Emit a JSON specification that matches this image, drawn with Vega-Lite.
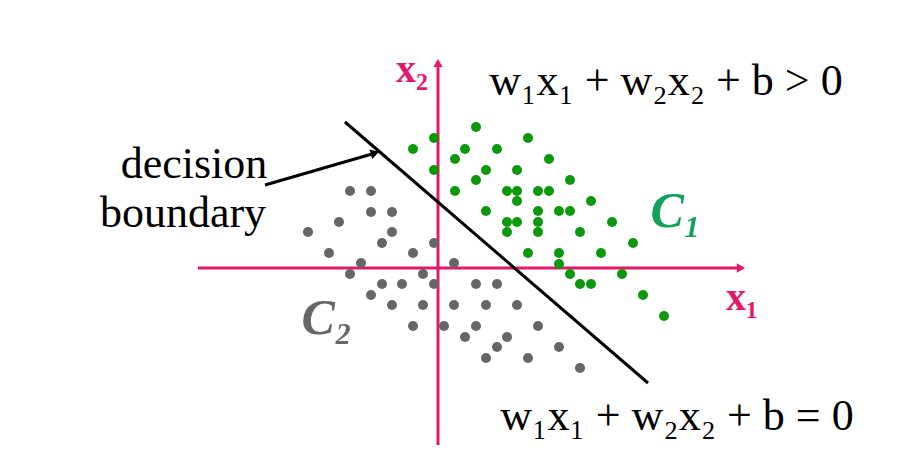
{
  "$schema": "https://vega.github.io/schema/vega-lite/v6.json",
  "width": 918,
  "height": 462,
  "autosize": {"type": "fit", "contains": "padding"},
  "padding": 0,
  "background": "white",
  "config": {"view": {"stroke": null}, "axis": {"disable": true}},
  "datasets": {
    "points": [
      {"cls": "C1", "x1": 3.8, "x2": 14.1}, {"cls": "C1", "x1": -0.4, "x2": 13.0}, {"cls": "C1", "x1": 9.0, "x2": 13.0},
      {"cls": "C1", "x1": -2.5, "x2": 11.9}, {"cls": "C1", "x1": 2.7, "x2": 11.9}, {"cls": "C1", "x1": 5.9, "x2": 11.9},
      {"cls": "C1", "x1": 1.7, "x2": 10.9}, {"cls": "C1", "x1": 11.1, "x2": 10.9}, {"cls": "C1", "x1": -0.4, "x2": 9.8},
      {"cls": "C1", "x1": 4.8, "x2": 9.8}, {"cls": "C1", "x1": 7.9, "x2": 9.8}, {"cls": "C1", "x1": 3.8, "x2": 8.8},
      {"cls": "C1", "x1": 13.2, "x2": 8.8}, {"cls": "C1", "x1": 1.7, "x2": 7.7}, {"cls": "C1", "x1": 6.9, "x2": 7.7},
      {"cls": "C1", "x1": 7.9, "x2": 7.7}, {"cls": "C1", "x1": 10.0, "x2": 7.7}, {"cls": "C1", "x1": 11.1, "x2": 7.7},
      {"cls": "C1", "x1": 7.9, "x2": 6.7}, {"cls": "C1", "x1": 15.3, "x2": 6.7}, {"cls": "C1", "x1": 4.8, "x2": 5.7},
      {"cls": "C1", "x1": 10.0, "x2": 5.7}, {"cls": "C1", "x1": 12.1, "x2": 5.7}, {"cls": "C1", "x1": 13.2, "x2": 5.7},
      {"cls": "C1", "x1": 6.9, "x2": 4.6}, {"cls": "C1", "x1": 7.9, "x2": 4.6}, {"cls": "C1", "x1": 10.0, "x2": 4.6},
      {"cls": "C1", "x1": 17.4, "x2": 4.6}, {"cls": "C1", "x1": 6.9, "x2": 3.6}, {"cls": "C1", "x1": 10.0, "x2": 3.6},
      {"cls": "C1", "x1": 14.2, "x2": 3.6}, {"cls": "C1", "x1": 19.5, "x2": 2.5}, {"cls": "C1", "x1": 9.0, "x2": 1.5},
      {"cls": "C1", "x1": 12.1, "x2": 1.5}, {"cls": "C1", "x1": 16.3, "x2": 1.5}, {"cls": "C1", "x1": 12.1, "x2": 0.4},
      {"cls": "C1", "x1": 13.2, "x2": -0.6}, {"cls": "C1", "x1": 18.4, "x2": -0.6}, {"cls": "C1", "x1": 14.2, "x2": -1.6},
      {"cls": "C1", "x1": 15.3, "x2": -1.6}, {"cls": "C1", "x1": 20.5, "x2": -2.7}, {"cls": "C1", "x1": 22.6, "x2": -4.8},
      {"cls": "C2", "x1": -8.8, "x2": 7.7}, {"cls": "C2", "x1": -6.7, "x2": 7.7}, {"cls": "C2", "x1": -6.7, "x2": 5.6},
      {"cls": "C2", "x1": -4.6, "x2": 5.6}, {"cls": "C2", "x1": -9.9, "x2": 4.6}, {"cls": "C2", "x1": -13.0, "x2": 3.6},
      {"cls": "C2", "x1": -4.6, "x2": 3.6}, {"cls": "C2", "x1": -5.6, "x2": 2.5}, {"cls": "C2", "x1": -0.4, "x2": 2.5},
      {"cls": "C2", "x1": -10.9, "x2": 1.5}, {"cls": "C2", "x1": -2.5, "x2": 1.5}, {"cls": "C2", "x1": -7.7, "x2": 0.5},
      {"cls": "C2", "x1": 1.6, "x2": 0.5}, {"cls": "C2", "x1": -8.8, "x2": -0.6}, {"cls": "C2", "x1": -1.5, "x2": -0.6},
      {"cls": "C2", "x1": -5.6, "x2": -1.6}, {"cls": "C2", "x1": -3.6, "x2": -1.6}, {"cls": "C2", "x1": -0.4, "x2": -1.6},
      {"cls": "C2", "x1": 3.8, "x2": -1.6}, {"cls": "C2", "x1": 5.9, "x2": -1.6}, {"cls": "C2", "x1": -6.7, "x2": -2.7},
      {"cls": "C2", "x1": -4.6, "x2": -3.7}, {"cls": "C2", "x1": -1.5, "x2": -3.7}, {"cls": "C2", "x1": 1.6, "x2": -3.7},
      {"cls": "C2", "x1": 4.8, "x2": -3.7}, {"cls": "C2", "x1": 7.9, "x2": -3.7}, {"cls": "C2", "x1": -2.5, "x2": -5.8},
      {"cls": "C2", "x1": 0.6, "x2": -5.8}, {"cls": "C2", "x1": 3.8, "x2": -5.8}, {"cls": "C2", "x1": 10.0, "x2": -5.8},
      {"cls": "C2", "x1": 2.7, "x2": -6.9}, {"cls": "C2", "x1": 6.9, "x2": -6.9}, {"cls": "C2", "x1": 5.9, "x2": -7.9},
      {"cls": "C2", "x1": 12.1, "x2": -7.9}, {"cls": "C2", "x1": 4.8, "x2": -9.0}, {"cls": "C2", "x1": 9.0, "x2": -9.0},
      {"cls": "C2", "x1": 14.2, "x2": -10.0}
    ],
    "axes": [
      {"name": "x1axis", "xa": -24.0, "ya": 0, "xb": 30.0, "yb": 0},
      {"name": "x2axis", "xa": 0, "ya": -17.7, "xb": 0, "yb": 20.2}
    ],
    "boundary": [
      {"name": "boundary", "xa": -9.3, "ya": 14.6, "xb": 21.0, "yb": -11.5},
      {"name": "pointer", "xa": -17.3, "ya": 8.3, "xb": -6.6, "yb": 11.4}
    ]
  },
  "layer": [
    {
      "data": {"name": "axes"},
      "mark": {"type": "rule", "color": "#e3186b", "strokeWidth": 3},
      "encoding": {
        "x": {"field": "xa", "type": "quantitative", "scale": {"domain": [-43.8, 48.0], "nice": false, "zero": false}},
        "y": {"field": "ya", "type": "quantitative", "scale": {"domain": [-19.4, 26.8], "nice": false, "zero": false}},
        "x2": {"field": "xb"},
        "y2": {"field": "yb"}
      }
    },
    {
      "data": {"values": [{"name": "x1axis", "x": 30.3, "y": 0, "dir": 90}, {"name": "x2axis", "x": 0, "y": 20.5, "dir": 0}]},
      "mark": {"type": "point", "shape": "triangle-up", "filled": true, "color": "#e3186b", "size": 90, "opacity": 1},
      "encoding": {
        "x": {"field": "x", "type": "quantitative"},
        "y": {"field": "y", "type": "quantitative"},
        "angle": {"field": "dir", "type": "quantitative", "scale": null}
      }
    },
    {
      "data": {"name": "points"},
      "mark": {"type": "circle", "size": 100, "opacity": 1},
      "encoding": {
        "x": {"field": "x1", "type": "quantitative"},
        "y": {"field": "x2", "type": "quantitative"},
        "color": {"field": "cls", "type": "nominal", "scale": {"domain": ["C1", "C2"], "range": ["#0b990b", "#666666"]}, "legend": null}
      }
    },
    {
      "data": {"name": "boundary"},
      "mark": {"type": "rule", "color": "#000000", "strokeWidth": 3},
      "encoding": {
        "x": {"field": "xa", "type": "quantitative"},
        "y": {"field": "ya", "type": "quantitative"},
        "x2": {"field": "xb"},
        "y2": {"field": "yb"}
      }
    },
    {
      "data": {"values": [{"name": "pointer head", "x": -6.3, "y": 11.5, "dir": 74}]},
      "mark": {"type": "point", "shape": "triangle-up", "filled": true, "color": "#000000", "size": 100, "opacity": 1},
      "encoding": {
        "x": {"field": "x", "type": "quantitative"},
        "y": {"field": "y", "type": "quantitative"},
        "angle": {"field": "dir", "type": "quantitative", "scale": null}
      }
    },
    {
      "data": {"values": [{"label": "decision", "x": -24.4, "y": 9.0}, {"label": "boundary", "x": -25.5, "y": 4.1}]},
      "mark": {"type": "text", "font": "Liberation Serif", "fontSize": 44, "color": "#000000", "align": "center", "baseline": "alphabetic"},
      "encoding": {
        "x": {"field": "x", "type": "quantitative"},
        "y": {"field": "y", "type": "quantitative"},
        "text": {"field": "label"}
      }
    },
    {
      "data": {"values": [{"label": "w₁x₁ + w₂x₂ + b > 0", "x": 22.8, "y": 17.3}, {"label": "w₁x₁ + w₂x₂ + b = 0", "x": 23.9, "y": -16.2}]},
      "mark": {"type": "text", "font": "Liberation Serif", "fontSize": 44, "color": "#000000", "align": "center", "baseline": "alphabetic"},
      "encoding": {
        "x": {"field": "x", "type": "quantitative"},
        "y": {"field": "y", "type": "quantitative"},
        "text": {"field": "label"}
      }
    },
    {
      "data": {"values": [{"label": "x₂", "x": -2.6, "y": 19.8}, {"label": "x₁", "x": 30.4, "y": -3.0}]},
      "mark": {"type": "text", "font": "Liberation Serif", "fontSize": 40, "fontWeight": "bold", "color": "#e3186b", "align": "center", "baseline": "middle"},
      "encoding": {
        "x": {"field": "x", "type": "quantitative"},
        "y": {"field": "y", "type": "quantitative"},
        "text": {"field": "label"}
      }
    },
    {
      "data": {"values": [{"label": "C₁", "cls": "C1", "x": 23.8, "y": 5.6}, {"label": "C₂", "cls": "C2", "x": -11.1, "y": -5.1}]},
      "mark": {"type": "text", "font": "Liberation Serif", "fontSize": 50, "fontWeight": "bold", "fontStyle": "italic", "align": "center", "baseline": "middle"},
      "encoding": {
        "x": {"field": "x", "type": "quantitative"},
        "y": {"field": "y", "type": "quantitative"},
        "text": {"field": "label"},
        "color": {"field": "cls", "type": "nominal", "scale": {"domain": ["C1", "C2"], "range": ["#12a05a", "#666666"]}, "legend": null}
      }
    }
  ],
  "resolve": {"scale": {"color": "independent"}}
}
